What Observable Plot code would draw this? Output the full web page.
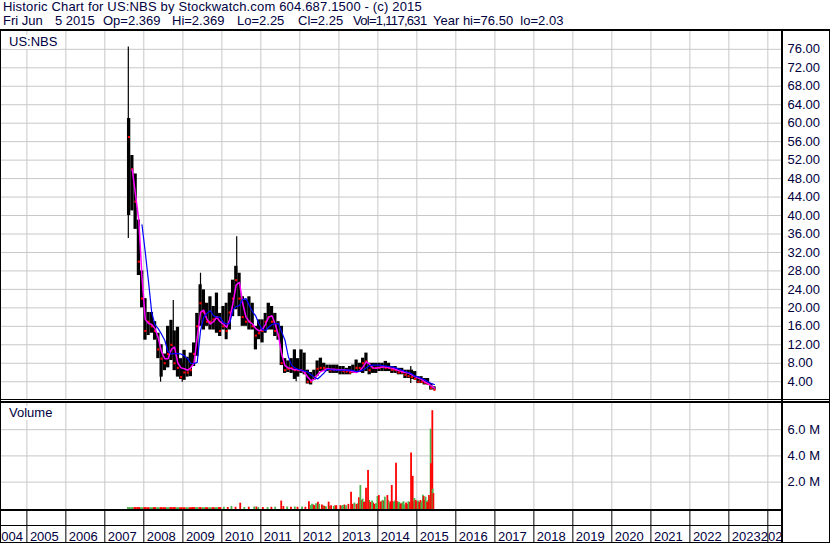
<!DOCTYPE html>
<html>
<head>
<meta charset="utf-8">
<script src="https://cdn.jsdelivr.net/npm/d3@7"></script>
<script src="https://cdn.jsdelivr.net/npm/@observablehq/plot@0.6"></script>
<style>
  html, body { margin: 0; padding: 0; background: #fff; }
  #chart { position: relative; width: 830px; height: 543px; overflow: hidden; background: #fff;
    font-family: Arial, "Liberation Sans", sans-serif; color: #000040; }
  .abs { position: absolute; }
  .ln { position: absolute; background: #000; }
  .txt { position: absolute; white-space: pre; font-size: 13px; line-height: 14px; }
  svg { display: block; }
</style>
</head>
<body>
<div id="chart">
  <div class="txt" id="title" style="left:3px;top:0px;letter-spacing:0.17px"></div>
  <div id="sub"></div>
  <div class="abs" id="price" style="left:0;top:31px"></div>
  <div class="abs" id="volume" style="left:0;top:403px"></div>
  <div class="abs" id="band" style="left:0;top:511px"></div>
  <div class="ln" style="left:0;top:29px;width:830px;height:2px"></div>
  <div class="ln" style="left:0;top:399px;width:830px;height:1px"></div>
  <div class="ln" style="left:0;top:401px;width:830px;height:2px"></div>
  <div class="ln" style="left:0;top:509px;width:782px;height:2px"></div>
  <div class="ln" style="left:0;top:525px;width:782px;height:1px"></div>
  <div class="ln" style="left:0;top:542px;width:830px;height:1px"></div>
  <div class="ln" style="left:0;top:29px;width:1px;height:514px"></div>
  <div class="ln" style="left:829px;top:29px;width:1px;height:514px"></div>
  <div class="ln" style="left:781px;top:29px;width:2px;height:514px"></div>
  <div class="txt" id="sym" style="left:9px;top:35px;background:#fff;padding-right:3px"></div>
  <div class="txt" id="vlab" style="left:9px;top:406px;background:#fff;padding-right:3px"></div>
</div>
<script>
const TITLE = "Historic Chart for US:NBS by Stockwatch.com 604.687.1500 - (c) 2015";
const SUBTITLE_PARTS = ["Fri Jun", "5 2015", "Op=2.369", "Hi=2.369", "Lo=2.25", "Cl=2.25", "Vol=1,117,631", "Year hi=76.50  lo=2.03"];
const SYMBOL = "US:NBS";
const VOLUME_LABEL = "Volume";

const yearTicks = [2004,2005,2006,2007,2008,2009,2010,2011,2012,2013,2014,2015,2016,2017,2018,2019,2020,2021,2022,2023,2024];
const priceTicks = [4,8,12,16,20,24,28,32,36,40,44,48,52,56,60,64,68,72,76];
const volTicks = [2,4,6];

const months = [
  "2007-08","2007-09","2007-10","2007-11","2007-12",
  "2008-01","2008-02","2008-03","2008-04","2008-05","2008-06","2008-07","2008-08","2008-09","2008-10","2008-11","2008-12",
  "2009-01","2009-02","2009-03","2009-04","2009-05","2009-06","2009-07","2009-08","2009-09","2009-10","2009-11","2009-12",
  "2010-01","2010-02","2010-03","2010-04","2010-05","2010-06","2010-07","2010-08","2010-09","2010-10","2010-11","2010-12",
  "2011-01","2011-02","2011-03","2011-04","2011-05","2011-06","2011-07","2011-08","2011-09","2011-10","2011-11","2011-12",
  "2012-01","2012-02","2012-03","2012-04","2012-05","2012-06","2012-07","2012-08","2012-09","2012-10","2012-11","2012-12",
  "2013-01","2013-02","2013-03","2013-04","2013-05","2013-06","2013-07","2013-08","2013-09","2013-10","2013-11","2013-12",
  "2014-01","2014-02","2014-03","2014-04","2014-05","2014-06","2014-07","2014-08","2014-09","2014-10","2014-11","2014-12",
  "2015-01","2015-02","2015-03","2015-04","2015-05","2015-06"
];
const priceHigh = [
  61,53,49,39,28,
  22,19,19,17,14.5,12,10,16,17.3,15,15.8,9,
  10.8,9.3,10.2,12.4,18.8,25,23.9,21,22.4,20.3,23.2,18.8,
  20.3,21,23.2,26,29,27.5,22.4,21.7,22.4,21,16,17.4,
  17.4,18.8,21,20.3,18.8,17,16,9,8.5,9,10.9,9,
  10.9,10.2,6.5,6,6.5,8.5,9.1,8,7.6,7.6,7.6,7.6,
  7.3,7.3,6.9,7.3,7.6,8.7,8,9.1,10.2,8,8,8,
  8,8,8.4,8,7.3,7.3,6.9,6.9,6.5,6.5,6.5,6.2,
  5.1,5.1,4.7,4.7,3.6,2.9
];
const priceLow = [
  40,41,37,27,20,
  13,14,14.5,13,9,5,6.4,7,8.6,6.4,5,4.5,
  4.3,5,5.1,7.3,9.5,16,15.2,16,15.2,15.2,14.5,13.8,
  15.2,13.1,15.2,18.1,19.6,18.1,16,16,15.2,15.2,10.9,13.1,
  12.4,14.5,15.2,15.2,13.8,13,7.5,5.8,6,5.8,4.5,5,
  5.8,5.5,3.5,3.3,4.3,5.2,6.2,6.2,6.2,5.8,5.8,5.8,
  5.5,5.5,5.5,5.5,5.8,6.2,6,5.8,6.2,5.5,5.8,5.8,
  6.2,6.2,6.2,6.2,5.8,5.8,5.5,5.5,4.7,4.7,4.5,4.4,
  3.6,3.6,3.3,3.3,2.2,2.2
];
const priceClose = [
  57,50,43,30,22,
  15,17,16,15,11,9,8,10,12,8,7,5,
  6,6,6.5,10,16,21,19,17,17,17.5,18,15,
  16,15,19,22,26,22,18,17,17,16,14,14.5,
  15,17,18,17,15,14,8,6.5,6.8,7,6.5,6.5,
  6.5,6,4,4,5,6.8,7,7,6.8,6.5,6.5,6.6,
  6.5,6.3,6.2,6,6.3,7,7,8,8.4,6.5,7,7,
  7,7.2,7,7,6.6,6.5,6,6,5.5,5.2,5,4.6,
  4,4,3.8,3.5,2.6,2.25
];
// single-day extremes visible as thin spikes
const spikeDates = ["2007-08-09","2008-06-06","2008-10-03","2008-12-26","2009-06-15","2010-05-20","2011-11-28","2014-11-05"];
const spikeHigh = [76.5,10,21.6,8,27.5,35.4,8,7.3];
const spikeLow  = [35,3.9,9,3.9,17,22,4,3.6];

// short moving average (magenta), one value per month (null = not drawn)
const maShort = [
  null,50,44.6,39,26.6,
  17.5,16.6,16.4,15.5,13.5,10.5,9,9,11,11.5,8,7,
  6.8,6.5,7,8,13.5,19,19.5,17.5,16.5,17,18,17,
  16.5,15.8,17.5,21,25,25.5,21,18,17,16.5,15.5,15,
  15.3,16.5,18,18.3,16.5,14,10,7.5,7,6.8,6.6,6.6,
  6.5,6,5,4.2,4.5,5.5,6.2,6.5,6.8,6.7,6.7,6.6,
  6.6,6.6,6.5,6.4,6.1,6,6.3,7.2,8.3,7.8,7,6.9,
  7.1,7.2,7.2,7,6.9,6.7,6.4,6.2,6,5.9,5.5,5.1,
  4.8,4.5,4,3.6,3.1,2.6
];
// long moving average (blue)
const maLong = [
  null,null,null,null,38,
  32,25.5,19,16.3,15.5,14.3,13,10.5,10,10.1,10.1,10,
  9.6,9,8,7.9,8.2,15,18,18.8,19.4,18.3,18,18,
  16.8,16.5,16.6,19.5,20.3,20.5,21.8,22,20.5,19.2,18.2,16.5,
  15.3,15.1,15.8,16.4,16.6,16.6,14.8,13,9.5,7.6,7,6.7,
  6.5,6.3,6.1,5.5,5,4.6,5.2,5.9,6.7,6.6,6.5,6.5,
  6.5,6.5,6.5,6.5,6.4,6.2,6.3,6.5,7,7.5,7.6,7.6,
  7.6,7.5,7.4,7.3,7.2,7,6.8,6.5,6.2,6,5.7,5.2,
  5,4.7,4.4,4,3.6,3.4
];

// volume (millions): thin early strip, one entry per month
const volEarlyMonths = months.slice(0, 29);
const volEarly = [
  0.05,0.05,0.05,0.05,0.04,
  0.05,0.04,0.04,0.05,0.04,0.05,0.04,0.04,0.05,0.05,0.04,0.04,
  0.04,0.04,0.04,0.05,0.05,0.05,0.04,0.04,0.04,0.04,0.04,0.05
];
const volEarlyDir = [
  "u","u","d","d","u",
  "d","d","u","d","u","d","d","u","d","d","u","d",
  "d","u","d","d","u","d","u","d","u","d","u","d"
];
// smaller bars between the larger ones (drawn first)
const volMinorDates = [
  "2012-04-10","2012-05-05","2012-08-05","2012-10-05","2012-11-28",
  "2013-01-30","2013-02-22","2013-05-10","2013-06-28","2013-08-02","2013-09-02","2013-10-12","2013-11-18",
  "2014-02-02","2014-02-24","2014-04-06","2014-05-20","2014-06-08","2014-07-02","2014-07-22","2014-08-09","2014-08-29",
  "2014-10-02","2014-10-25","2014-12-01",
  "2015-01-04","2015-02-04","2015-02-20","2015-03-15","2015-04-01","2015-04-17","2015-05-03"
];
const volMinorValues = [
  0.20,0.25,0.20,0.15,0.18,
  0.15,0.25,0.30,0.35,0.60,0.50,0.60,0.40,
  0.50,0.55,0.60,0.50,0.55,0.50,0.45,0.35,0.50,
  0.30,0.45,0.50,
  0.50,0.60,0.50,0.60,0.50,0.60,0.70
];
const volMinorDir = [
  "u","d","u","u","d",
  "u","d","d","u","d","u","u","d",
  "d","d","u","d","u","d","u","d","u",
  "d","d","d",
  "d","d","u","d","u","u","d"
];
const volDates = [
  "2010-01-20","2010-02-25","2010-04-01","2010-05-09","2010-06-22","2010-07-30","2010-09-10","2010-10-31","2010-11-20","2010-12-08",
  "2011-01-20","2011-03-05","2011-04-10","2011-05-15","2011-07-11","2011-07-31","2011-09-05","2011-10-10","2011-11-15","2011-12-10",
  "2012-01-22","2012-02-22","2012-03-26","2012-04-24","2012-05-18","2012-06-01","2012-06-19","2012-07-01","2012-07-26","2012-08-18",
  "2012-09-02","2012-09-27","2012-10-20","2012-11-14","2012-12-08",
  "2013-01-15","2013-02-09","2013-03-09","2013-03-31","2013-04-25","2013-05-26","2013-06-14","2013-07-08","2013-07-21","2013-08-12",
  "2013-08-24","2013-09-12","2013-10-01","2013-10-23","2013-11-08","2013-11-29","2013-12-15","2013-12-28",
  "2014-01-10","2014-01-28","2014-02-13","2014-03-07","2014-03-31","2014-04-16","2014-04-28","2014-05-11","2014-05-30","2014-06-20",
  "2014-07-12","2014-07-31","2014-08-19","2014-09-07","2014-09-22","2014-10-14","2014-11-08","2014-11-23","2014-12-09","2014-12-21",
  "2015-01-12","2015-01-24","2015-02-12","2015-02-27","2015-03-06","2015-03-24","2015-04-09","2015-04-25","2015-05-10","2015-05-13",
  "2015-05-26","2015-05-29","2015-06-05"
];
const volValues = [
  0.08,0.06,0.14,0.08,0.39,0.06,0.08,0.10,0.10,0.06,
  0.06,0.06,0.08,0.08,0.55,0.14,0.10,0.08,0.10,0.08,
  0.10,0.08,0.50,0.30,0.20,0.35,0.47,0.30,0.25,0.15,
  0.12,0.47,0.20,0.15,0.20,
  0.20,0.22,0.20,0.30,1.23,0.40,0.30,0.80,1.74,0.70,
  0.45,1.53,2.89,0.45,0.55,0.30,0.35,0.90,
  0.97,0.45,0.60,0.85,0.97,0.40,0.50,1.74,0.45,3.44,
  0.45,0.30,0.40,0.25,0.40,0.50,4.22,2.44,0.75,0.60,
  0.55,0.45,0.40,1.00,0.90,0.85,0.45,0.97,6.05,3.40,
  7.45,1.45,1.12
];
const volDir = [
  "u","d","u","d","d","u","d","u","d","u",
  "d","u","d","u","d","d","u","d","u","d",
  "u","d","d","u","d","u","d","u","d","d",
  "u","d","d","u","d",
  "d","u","u","d","d","u","d","d","u","u",
  "d","d","d","d","u","d","u","u",
  "d","d","u","u","d","u","d","d","u","d",
  "u","d","u","u","d","u","d","d","u","d",
  "u","d","u","u","d","u","d","d","u","d",
  "d","u","d"
];

// ---------- styling / layout ----------
const INK = "#000040";
const GRID = "#c8c8c8";
const RED = "#ff0000";
const GREEN = "#4cb34c";
const FONT = "Arial, 'Liberation Sans', sans-serif";
const VOL_FLOOR = -0.092;
const SUB_LEFT = [3, 55, 103, 172, 237, 298, 353, 433];
const SUB_SPACING = [0, 0, 0, 0, 0, 0, -0.7, 0];

document.getElementById("title").textContent = TITLE;
const subEl = document.getElementById("sub");
SUBTITLE_PARTS.forEach((t, i) => {
  const s = document.createElement("div");
  s.className = "txt";
  s.style.left = SUB_LEFT[i] + "px";
  s.style.top = "14px";
  s.style.letterSpacing = SUB_SPACING[i] + "px";
  s.textContent = t;
  subEl.appendChild(s);
});
document.getElementById("sym").textContent = SYMBOL;
document.getElementById("vlab").textContent = VOLUME_LABEL;

const P = d => new Date(d);
const yearDates = yearTicks.map(y => new Date(Date.UTC(y, 0, 1)));
const yearLabel = d => String(d.getUTCFullYear());
const priceRows = months.map((m, i) => ({
  start: P(m + "-01"), end: d3.utcMonth.offset(P(m + "-01"), 1), mid: P(m + "-15"),
  hi: priceHigh[i], lo: priceLow[i], close: priceClose[i]
}));
const spikeRows = spikeDates.map((d, i) => ({date: P(d), hi: spikeHigh[i], lo: spikeLow[i]}));
const shortRows = months.map((m, i) => ({date: P(m + "-15"), v: maShort[i]})).filter(d => d.v != null);
const longRows = months.map((m, i) => ({date: P(m + "-15"), v: maLong[i]})).filter(d => d.v != null);
const volEarlyRows = volEarlyMonths.map((m, i) => ({
  start: P(m + "-01"), end: d3.utcMonth.offset(P(m + "-01"), 1), v: volEarly[i], c: volEarlyDir[i] === "u" ? GREEN : RED
}));
const volMinorRows = volMinorDates.map((d, i) => ({date: P(d), v: volMinorValues[i], c: volMinorDir[i] === "u" ? GREEN : RED}));
const volRows = volDates.map((d, i) => ({date: P(d), v: volValues[i], c: volDir[i] === "u" ? GREEN : RED}));

const X = {type: "utc", domain: [P("2004-04-29"), P("2024-05-08")], range: [0, 781], axis: null};
const base = {
  width: 830, marginTop: 0, marginBottom: 0, marginLeft: 0, marginRight: 49,
  style: {fontFamily: FONT, fontSize: "13px", color: INK, background: "transparent", overflow: "visible"}
};

const price = Plot.plot({
  ...base, height: 368,
  x: X,
  y: {domain: [0.15, 79.86], label: null},
  marks: [
    Plot.ruleX(yearDates, {stroke: GRID}),
    Plot.ruleY(priceTicks, {stroke: GRID}),
    Plot.rect(priceRows, {x1: "start", x2: "end", y1: "lo", y2: "hi", fill: "black"}),
    Plot.ruleX(spikeRows, {x: "date", y1: "lo", y2: "hi", stroke: "black", strokeWidth: 1.2}),
    Plot.dot(priceRows, {x: "mid", y: "close", symbol: "square", r: 1.2, fill: RED, stroke: null}),
    Plot.line(shortRows, {x: "date", y: "v", stroke: "#ff00ff", strokeWidth: 1.5}),
    Plot.line(longRows, {x: "date", y: "v", stroke: "#0000ff", strokeWidth: 1.2}),
    Plot.axisY(priceTicks, {anchor: "right", label: null, tickSize: 0, tickPadding: 6, tickFormat: d => d.toFixed(2), fill: INK, fontSize: 13})
  ]
});
document.getElementById("price").appendChild(price);

const volume = Plot.plot({
  ...base, height: 106,
  x: X,
  y: {domain: [VOL_FLOOR, 8.0], label: null},
  color: {type: "identity"},
  marks: [
    Plot.ruleX(yearDates, {stroke: GRID}),
    Plot.ruleY(volTicks, {stroke: GRID}),
    Plot.rect(volEarlyRows, {x1: "start", x2: "end", y1: VOL_FLOOR, y2: "v", fill: "c"}),
    Plot.ruleX(volMinorRows, {x: "date", y1: VOL_FLOOR, y2: "v", stroke: "c", strokeWidth: 1.8}),
    Plot.ruleX(volRows, {x: "date", y1: VOL_FLOOR, y2: "v", stroke: "c", strokeWidth: 1.8}),
    Plot.axisY(volTicks, {anchor: "right", label: null, tickSize: 0, tickPadding: 6, tickFormat: d => d.toFixed(1) + " M", fill: INK, fontSize: 13})
  ]
});
document.getElementById("volume").appendChild(volume);

const n = yearDates.length;
const textStyle = {frameAnchor: "bottom", lineAnchor: "bottom", dy: -2, fill: INK, fontSize: 13, clip: true};
const band = Plot.plot({
  ...base, height: 31,
  x: X,
  marks: [
    Plot.ruleX(yearDates, {stroke: "black"}),
    // first label sits just left of the next boundary (it is cut by the left edge)
    Plot.text(yearDates.slice(0, 1), {x: () => yearDates[1], text: yearLabel, textAnchor: "end", dx: -4, ...textStyle}),
    Plot.text(yearDates.slice(1, n - 1), {x: d => d, text: yearLabel, textAnchor: "start", dx: 3, ...textStyle}),
    // last label is pushed left against the previous label and cut by the right edge
    Plot.text(yearDates.slice(n - 1), {x: d => d, text: yearLabel, textAnchor: "start", dx: -7, ...textStyle})
  ]
});
document.getElementById("band").appendChild(band);
</script>
</body>
</html>
